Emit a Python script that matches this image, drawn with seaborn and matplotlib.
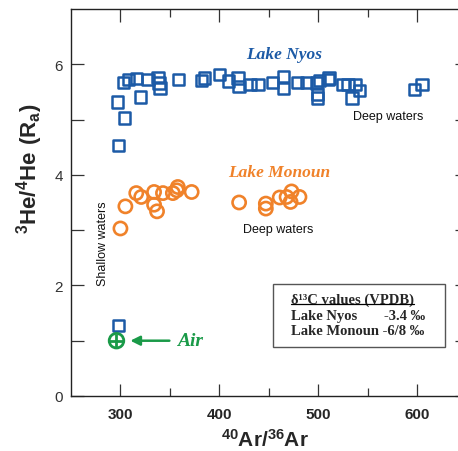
import numpy as np
import pandas as pd
import matplotlib
matplotlib.use("Agg")
import matplotlib.pyplot as plt
from matplotlib.patches import Rectangle
import seaborn as sns

# ---- data ----
nyos_ar = [297, 304, 298, 303, 308, 316, 320, 328, 338, 339, 340, 359, 382, 385, 400,
           409, 419, 420, 431, 439, 454, 465, 465, 479, 488, 498, 499, 499, 501, 510,
           511, 525, 530, 534, 538, 542, 597, 605, 298]
nyos_he = [5.32, 5.03, 4.53, 5.67, 5.72, 5.74, 5.41, 5.73, 5.76, 5.66, 5.57, 5.72, 5.71, 5.75, 5.82,
           5.70, 5.75, 5.60, 5.63, 5.63, 5.67, 5.78, 5.56, 5.67, 5.67, 5.66, 5.46, 5.39, 5.71, 5.72,
           5.75, 5.63, 5.63, 5.39, 5.63, 5.52, 5.54, 5.63, 1.27]
monoun_ar = [300, 305, 316, 321, 334, 334, 337, 343, 353, 357, 358, 372, 420, 447, 447,
             461, 468, 473, 472, 481]
monoun_he = [3.03, 3.43, 3.67, 3.60, 3.69, 3.46, 3.34, 3.67, 3.67, 3.72, 3.78, 3.69, 3.50, 3.48, 3.39,
             3.59, 3.60, 3.70, 3.51, 3.60]
air_ar = [296]
air_he = [1.0]
x_ticks = [300, 400, 500, 600]
y_ticks = [0, 2, 4, 6]

blue = "#1c5aa6"
orange = "#f0822a"
green = "#1a9a48"

sns.set_style("ticks")
plt.rcParams["font.family"] = ["Liberation Sans", "DejaVu Sans"]
plt.rcParams["mathtext.fontset"] = "custom"
plt.rcParams["mathtext.rm"] = "Liberation Sans"
plt.rcParams["mathtext.bf"] = "Liberation Sans:bold"

fig = plt.figure(figsize=(4.58, 4.52), dpi=100)
ax = fig.add_axes([0.155, 0.1217, 0.8638, 0.8562])

df_n = pd.DataFrame({"ar": nyos_ar, "he": nyos_he})
df_m = pd.DataFrame({"ar": monoun_ar, "he": monoun_he})
df_a = pd.DataFrame({"ar": air_ar, "he": air_he})

sns.scatterplot(data=df_n, x="ar", y="he", ax=ax, marker="s", s=66,
                facecolor="none", edgecolor=blue, linewidth=1.8, zorder=3)
sns.scatterplot(data=df_m, x="ar", y="he", ax=ax, marker="o", s=90,
                facecolor="none", edgecolor=orange, linewidth=1.9, zorder=3)
sns.scatterplot(data=df_a, x="ar", y="he", ax=ax, marker="o", s=110,
                facecolor="none", edgecolor=green, linewidth=2.0, zorder=4)
sns.scatterplot(data=df_a, x="ar", y="he", ax=ax, marker="+", s=110,
                color=green, linewidth=2.0, zorder=4)

ax.set_xlim(250, 650)
ax.set_ylim(0, 7)
ax.set_xticks(x_ticks)
ax.set_xticks(np.arange(350, 650, 100), minor=True)
ax.set_yticks(y_ticks)
ax.set_yticks([1, 3, 5], minor=True)
ax.tick_params(which="both", direction="in", top=True, right=True, width=0.9, color="#333333")
ax.tick_params(which="major", length=9)
ax.tick_params(axis="x", which="minor", length=6)
ax.tick_params(axis="y", which="minor", length=9)
ax.tick_params(axis="x", labelsize=11, pad=8)
ax.tick_params(axis="y", labelsize=11, labelcolor="#333333", pad=6)
for lab in ax.get_xticklabels():
    lab.set_fontweight("bold")
for sp in ax.spines.values():
    sp.set_linewidth(1.0)
    sp.set_color("#222222")

ax.set_xlabel(r"$\mathbf{{}^{40}Ar/{}^{36}Ar}$", fontsize=15, va="center")
ax.set_ylabel(r"$\mathbf{{}^{3}He/{}^{4}He\ (R_{a})}$", fontsize=16, va="center")
ax.xaxis.set_label_coords(0.49, -0.112)
ax.yaxis.set_label_coords(-0.104, 0.59)

serif = ["Liberation Serif", "DejaVu Serif"]
ax.text(465, 6.19, "Lake Nyos", color=blue, fontsize=12.5, fontweight="bold",
        fontstyle="italic", family=serif, ha="center", va="center")
ax.text(461, 4.06, "Lake Monoun", color=orange, fontsize=12.5, fontweight="bold",
        fontstyle="italic", family=serif, ha="center", va="center")
ax.text(571, 5.06, "Deep waters", fontsize=9, ha="center", va="center", color="#111111")
ax.text(459, 3.02, "Deep waters", fontsize=9, ha="center", va="center", color="#111111")
ax.text(282.5, 2.78, "Shallow waters", fontsize=9, rotation=90, ha="center",
        va="center", color="#111111")

ax.annotate("Air", xy=(310, 1.0), xytext=(357, 1.0), color=green, fontsize=14,
            fontweight="bold", fontstyle="italic", family=serif, va="center", ha="left",
            arrowprops=dict(arrowstyle="-|>", color=green, lw=1.8, shrinkA=3, shrinkB=0,
                            mutation_scale=14))

# delta-13C box
box = Rectangle((0.511, 0.127), 0.434, 0.162, transform=ax.transAxes,
                facecolor="white", edgecolor="#555555", linewidth=1.0, zorder=5)
ax.add_patch(box)
t1 = ax.text(0.556, 0.251, "δ¹³C values (VPDB)", transform=ax.transAxes, family=serif,
             fontweight="bold", fontsize=10.5, ha="left", va="center", zorder=6)
ax.text(0.556, 0.209, "Lake Nyos", transform=ax.transAxes, family=serif,
        fontweight="bold", fontsize=10.5, ha="left", va="center", zorder=6)
ax.text(0.895, 0.209, "-3.4 ‰", transform=ax.transAxes, family=serif,
        fontweight="bold", fontsize=10.5, ha="right", va="center", zorder=6)
ax.text(0.556, 0.168, "Lake Monoun -6/8 ‰", transform=ax.transAxes, family=serif,
        fontweight="bold", fontsize=10.5, ha="left", va="center", zorder=6)

fig.canvas.draw()
bb = t1.get_window_extent().transformed(ax.transAxes.inverted())
ax.plot([bb.x0, bb.x1], [bb.y0 + 0.004, bb.y0 + 0.004], transform=ax.transAxes,
        color="black", lw=0.9, zorder=6)

fig.savefig("out.png", dpi=100)
